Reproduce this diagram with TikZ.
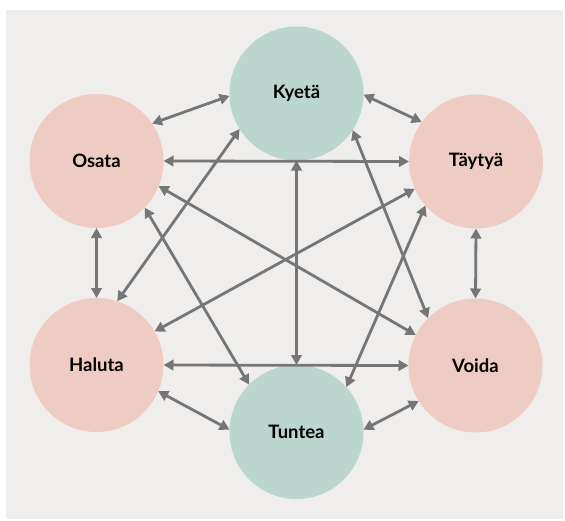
\documentclass[tikz,border=0pt]{standalone}
\usepackage{fontspec}
\setmainfont{Lato}
\usetikzlibrary{arrows.meta}
\definecolor{panel}{HTML}{EFEEEC}
\definecolor{pinkc}{HTML}{EFCCC3}
\definecolor{tealc}{HTML}{BAD6CF}
\definecolor{arrowc}{HTML}{767676}
\begin{document}
\begin{tikzpicture}[x=1pt,y=-1pt,
  verb/.style={circle, minimum size=134pt, inner sep=0pt, outer sep=0pt,
    font=\fontsize{18.5}{20}\selectfont\bfseries, text=black},
  pinkverb/.style={verb, fill=pinkc},
  tealverb/.style={verb, fill=tealc},
  link/.style={draw=arrowc, line width=2.8pt,
    {Triangle[length=10pt,width=10.5pt]}-{Triangle[length=10pt,width=10.5pt]}}]
\useasboundingbox (0,0) rectangle (565,520);
\fill[white] (0,0) rectangle (565,520);
\fill[panel] (6,10) rectangle (563,519);
\node[tealverb] (K) at (296.5,93.5) {Kyetä};
\node[pinkverb] (O) at (96.5,161) {Osata};
\node[pinkverb] (T) at (476,161.5) {Täytyä};
\node[pinkverb] (H) at (96.5,365) {Haluta};
\node[pinkverb] (V) at (475.5,365.5) {Voida};
\node[tealverb] (U) at (296.5,432) {Tuntea};
\draw[link] (O.34) -- (K.182);
\draw[link] (O.0) -- (T.180);
\draw[link] (K.270) -- (U.90);
\draw[link] (H.0) -- (V.180);
\draw[link] (O.270) -- (H.90);
\draw[link] (T.270) -- (V.90);
\draw[link] (H.-23) -- (U.178.3);
\draw[link] (U.2.5) -- (V.212.4);
\draw[link] (K.-1.3) -- (T.144.8);
\draw[link] (H.72.5) -- (K.212.9);
\draw[link] (H.30) -- (T.204.3);
\draw[link] (U.42.4) -- (T.221.3);
\draw[link] (O.-44.1) -- (U.135.3);
\draw[link] (O.-22.3) -- (V.153.3);
\draw[link] (K.-33.6) -- (V.135.6);
\end{tikzpicture}
\end{document}
